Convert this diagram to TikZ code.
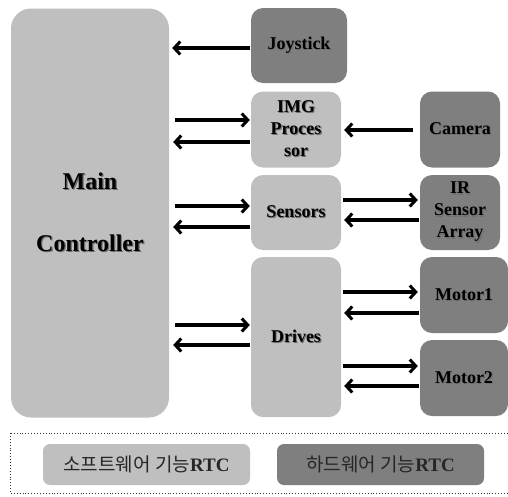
\documentclass[tikz,border=0pt]{standalone}
\usepackage{fontspec}
\setmainfont{Liberation Serif}
\newfontfamily\krfont{Noto Sans CJK KR}
\usetikzlibrary{arrows.meta,calc}
\definecolor{softc}{HTML}{BFBFBF}
\definecolor{hardc}{HTML}{7F7F7F}
\definecolor{shadc}{HTML}{707070}
\newcommand\shd[1]{\leavevmode\rlap{\kern1.2pt\raisebox{-1.2pt}{\textcolor{shadc}{#1}}}#1}
\tikzset{
  softbox/.style={draw=none,fill=softc,rounded corners=12pt,align=center,font=\bfseries\fontsize{18}{22}\selectfont,inner sep=0pt},
  hardbox/.style={draw=none,fill=hardc,rounded corners=12pt,align=center,font=\bfseries\fontsize{18}{22}\selectfont,inner sep=0pt},
  arr/.style={line width=3.3pt,-{Straight Barb[length=6pt,width=13pt,line width=3pt]}},
  legbox/.style={draw=none,rounded corners=7pt,minimum width=207pt,minimum height=41pt,inner sep=0pt,font=\fontsize{19}{21}\selectfont,text=black!85}
}
\begin{document}
\begin{tikzpicture}[x=1pt,y=-1pt]
\useasboundingbox (0,0) rectangle (508,496);
\node[softbox,rounded corners=20pt,minimum width=158pt,minimum height=409pt,font=\bfseries\fontsize{24}{62}\selectfont] (main) at (90,213) {\shd{Main}\\\shd{Controller}};
\node[hardbox,minimum width=96pt,minimum height=75pt] (joy) at (299,45.5) {\shd{Joystick}};
\node[softbox,minimum width=90pt,minimum height=76pt] (img) at (296,129.5) {\shd{IMG}\\\shd{Proces}\\\shd{sor}};
\node[hardbox,minimum width=80pt,minimum height=76pt] (cam) at (460,129.5) {\shd{Camera}};
\node[softbox,minimum width=90pt,minimum height=75pt] (sen) at (296,212.5) {\shd{Sensors}};
\node[hardbox,minimum width=80pt,minimum height=75pt] (ir) at (460,212.5) {\shd{IR}\\\shd{Sensor}\\\shd{Array}};
\node[softbox,minimum width=90pt,minimum height=160pt] (drv) at (296,337) {\shd{Drives}};
\node[hardbox,minimum width=88pt,minimum height=76pt] (m1) at (464,295) {\shd{Motor1}};
\node[hardbox,minimum width=88pt,minimum height=76pt] (m2) at (464,378) {\shd{Motor2}};
% arrows
\draw[arr,shorten >=3pt,shorten <=1pt] ([yshift=-2.5pt]joy.west) -- ([yshift=-2.5pt]joy.west -| main.east);
\draw[arr,shorten <=6pt,shorten >=1pt] ([yshift=9.5pt]img.west -| main.east) -- ([yshift=9.5pt]img.west);
\draw[arr,shorten >=4pt,shorten <=1pt] ([yshift=-12.5pt]img.west) -- ([yshift=-12.5pt]img.west -| main.east);
\draw[arr,shorten >=3pt,shorten <=7pt] ([yshift=-0.5pt]cam.west) -- ([yshift=-0.5pt]cam.west -| img.east);
\draw[arr,shorten <=6pt,shorten >=1pt] ([yshift=6.5pt]sen.west -| main.east) -- ([yshift=6.5pt]sen.west);
\draw[arr,shorten >=4pt,shorten <=1pt] ([yshift=-14.5pt]sen.west) -- ([yshift=-14.5pt]sen.west -| main.east);
\draw[arr,shorten <=2pt,shorten >=2pt] ([yshift=12.5pt]ir.west -| sen.east) -- ([yshift=12.5pt]ir.west);
\draw[arr,shorten >=3pt,shorten <=1pt] ([yshift=-7.5pt]ir.west) -- ([yshift=-7.5pt]ir.west -| sen.east);
\draw[arr,shorten <=6pt,shorten >=1pt] ([yshift=12pt]drv.west -| main.east) -- ([yshift=12pt]drv.west);
\draw[arr,shorten >=4pt,shorten <=1pt] ([yshift=-8pt]drv.west) -- ([yshift=-8pt]drv.west -| main.east);
\draw[arr,shorten <=2pt,shorten >=2pt] ([yshift=3pt]m1.west -| drv.east) -- ([yshift=3pt]m1.west);
\draw[arr,shorten >=3pt,shorten <=1pt] ([yshift=-18pt]m1.west) -- ([yshift=-18pt]m1.west -| drv.east);
\draw[arr,shorten <=2pt,shorten >=2pt] ([yshift=12pt]m2.west -| drv.east) -- ([yshift=12pt]m2.west);
\draw[arr,shorten >=3pt,shorten <=1pt] ([yshift=-8pt]m2.west) -- ([yshift=-8pt]m2.west -| drv.east);
% legend
\draw[black!80,line width=0.9pt,dotted] (10,433) rectangle (512,493);
\node[legbox,fill=softc] (lsoft) at (146.5,464.5) {\krfont 소프트웨어 기능\textbf{\rmfamily RTC}};
\node[legbox,fill=hardc] (lhard) at (380.5,464.5) {\krfont 하드웨어 기능\textbf{\rmfamily RTC}};
\end{tikzpicture}
\end{document}
